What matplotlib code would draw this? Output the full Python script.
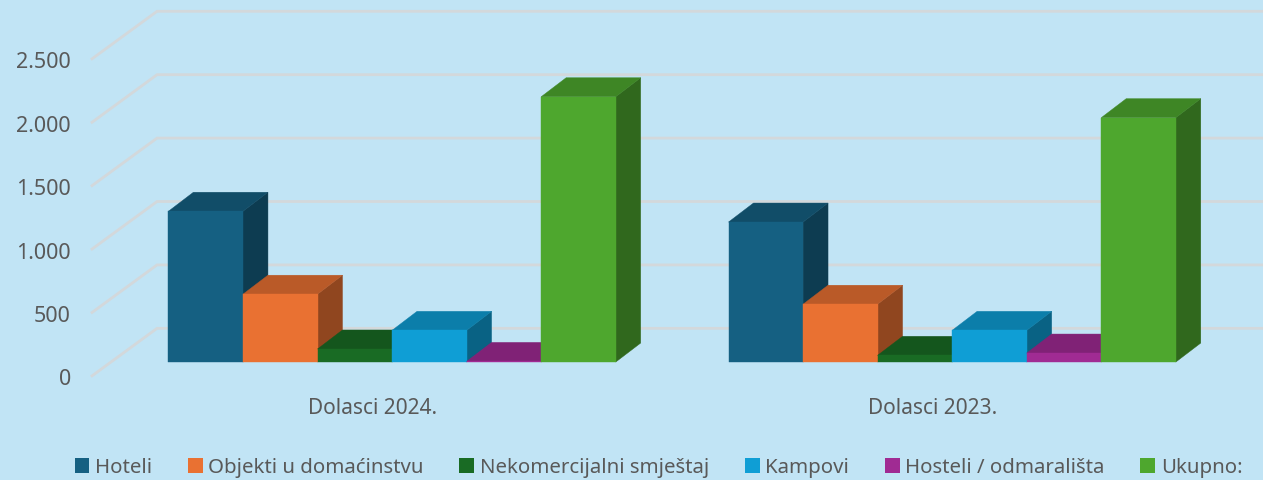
import matplotlib
matplotlib.use("Agg")
import matplotlib.pyplot as plt
from matplotlib.colors import to_rgb
from matplotlib.patches import Polygon, Patch

groups = ["Dolasci 2024.", "Dolasci 2023."]
series = ["Hoteli", "Objekti u domaćinstvu", "Nekomercijalni smještaj", "Kampovi",
          "Hosteli / odmarališta", "Ukupno:"]
colors = ["#156082", "#E97132", "#196B24", "#0F9ED5", "#A02B93", "#4EA72E"]
values_2024 = [1189, 535, 103, 250, 5, 2092]
values_2023 = [1104, 456, 53, 250, 71, 1927]
yticks = [0, 500, 1000, 1500, 2000, 2500]
ytick_labels = ["0", "500", "1.000", "1.500", "2.000", "2.500"]

BG = "#C1E4F5"
GRID = "#D3D8DB"
TEXT = "#595959"
FONT = "Noto Sans"

# 1263x480 px, one group step is 560 px and 1 unit of value is 0.1268 px
fig = plt.figure(figsize=(12.63, 4.8), dpi=100, facecolor=BG)
ax = fig.add_axes([0, 0, 1, 1])
ax.set_xlim(-0.7, 1.555)
ax.set_ylim(-930, 2855)
ax.axis("off")

bar_w = 0.1331
depth_x, depth_y = 0.0446, 150     # oblique depth of the bars
wall_x = -0.4196                   # back wall corner
wall_back_y, wall_front_y = 266, -109
front_x = -0.5357                  # front of the side wall


def shade(c, f):
    return tuple(v * f for v in to_rgb(c))


# walls
for v, lab in zip(yticks, ytick_labels):
    ax.plot([front_x, wall_x, 1.555], [v + wall_front_y, v + wall_back_y, v + wall_back_y],
            color=GRID, lw=2, zorder=1, solid_joinstyle="miter")
    ax.annotate(lab, (front_x, v + wall_front_y), xytext=(-21, -4), textcoords="offset pixels",
                ha="right", va="center", color=TEXT, fontsize=15.5, family=FONT)

# bars, left to right so each one sits over the side of the previous
z = 2
for g, vals in enumerate([values_2024, values_2023]):
    for i, v in enumerate(vals):
        x0 = g + (i - 3) * bar_w
        x1 = x0 + bar_w
        c = colors[i]
        top = [(x0, v), (x0 + depth_x, v + depth_y), (x1 + depth_x, v + depth_y), (x1, v)]
        side = [(x1, 0), (x1 + depth_x, depth_y), (x1 + depth_x, v + depth_y), (x1, v)]
        ax.add_patch(Polygon(side, fc=shade(c, 0.62), ec=shade(c, 0.62), lw=0.3, zorder=z))
        ax.add_patch(Polygon(top, fc=shade(c, 0.8), ec=shade(c, 0.8), lw=0.3, zorder=z))
        ax.bar(x0, v, bar_w, align="edge", color=c, ec=c, lw=0.3, zorder=z + 0.5)
        z += 1
    ax.annotate(groups[g], (g - 0.034, -365), ha="center", va="center", color=TEXT,
                fontsize=15, family=FONT, annotation_clip=False)

handles = [Patch(fc=c, ec="none") for c in colors]
fig.legend(handles, series, ncol=6, loc="center", bbox_to_anchor=(0.5214, 0.026),
           frameon=False, labelcolor=TEXT, prop={"family": FONT, "size": 14.7},
           handlelength=0.72, handleheight=0.72, handletextpad=0.28, columnspacing=1.75,
           borderpad=0, borderaxespad=0)

fig.savefig("out.png", dpi=100, facecolor=BG)
